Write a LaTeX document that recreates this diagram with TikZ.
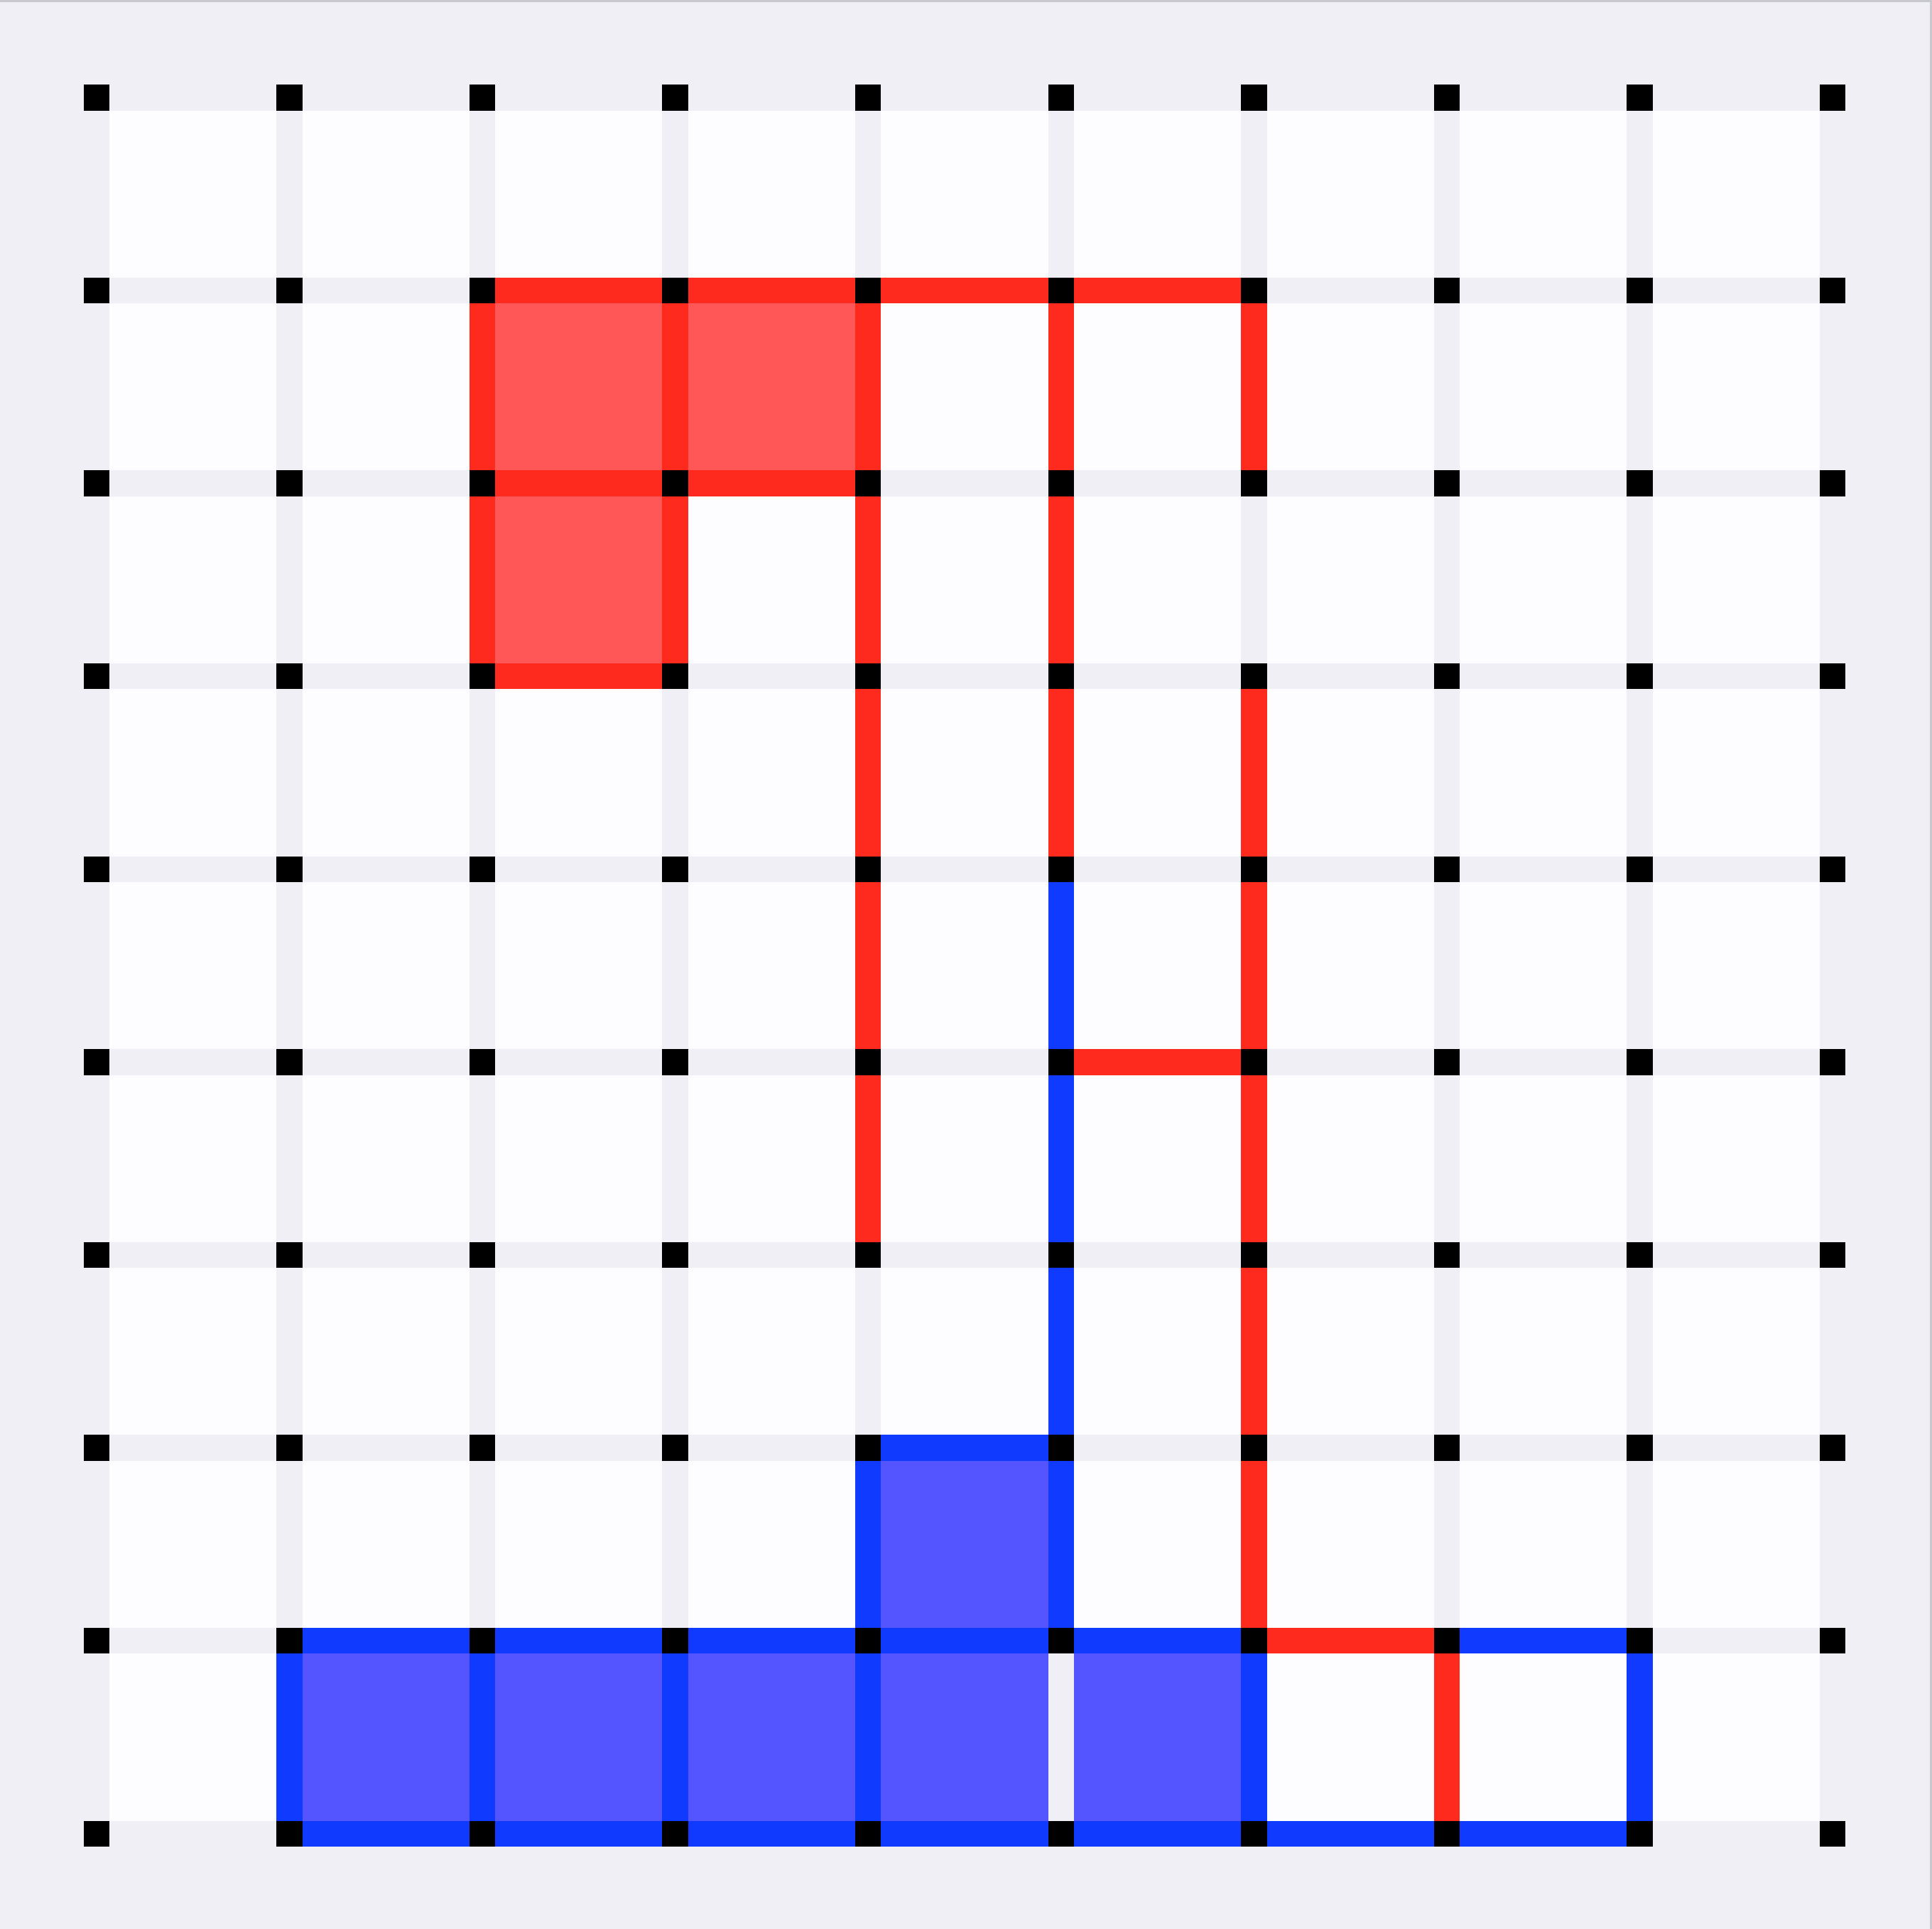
\documentclass[tikz,border=0pt]{standalone}
\usepackage{tikz}
\definecolor{boardgrey}{RGB}{240,239,245}
\definecolor{cellwhite}{RGB}{253,253,255}
\definecolor{edgered}{RGB}{255,42,30}
\definecolor{fillred}{RGB}{255,87,87}
\definecolor{edgeblue}{RGB}{17,58,255}
\definecolor{fillblue}{RGB}{85,85,255}
\definecolor{rimgrey}{RGB}{200,200,208}
\tikzset{
  dot/.style={draw=none, fill=black, rectangle, inner sep=0pt, outer sep=0pt,
              minimum size=0.134cm},
  rededge/.style={draw=edgered, line width=0.134cm},
  blueedge/.style={draw=edgeblue, line width=0.134cm},
}
\begin{document}
\begin{tikzpicture}
            % Board background and frame
            \useasboundingbox (-0.5,-0.493) rectangle (9.515,9.506);
            \fill[boardgrey] (-0.5,-0.493) rectangle (9.515,9.506);
            \draw[rimgrey, line width=0.01cm] (-0.5,9.501) -- (9.51,9.501) -- (9.51,-0.493);
            % White cells
            \foreach \c in {0,...,8}
              \foreach \r in {0,...,8}
                \fill[cellwhite] (\c+0.067,\r+0.067) rectangle (\c+0.933,\r+0.933);
            % Filled cells (column/row of top-left corner)
            \foreach \c/\r in {2/1, 3/1, 2/2}
              \fill[fillred] (\c+0.067,8-\r+0.067) rectangle (\c+0.933,9-\r-0.067);
            \foreach \c/\r in {4/7, 1/8, 2/8, 3/8, 4/8, 5/8}
              \fill[fillblue] (\c+0.067,8-\r+0.067) rectangle (\c+0.933,9-\r-0.067);
            % Vertex dots
            \foreach \c in {0,...,9}
              \foreach \r in {0,...,9}
                \node[dot] (v-\c-\r) at (\c,9-\r) {};
            % Horizontal edges (row/from/to/style)
            \foreach \r/\a/\b/\s in {1/2/6/rededge, 2/2/4/rededge, 3/2/3/rededge,
                5/5/6/rededge, 8/6/7/rededge, 7/4/5/blueedge, 8/1/6/blueedge,
                8/7/8/blueedge, 9/1/8/blueedge}{
              \pgfmathtruncatemacro{\e}{\b-1}
              \foreach \c in {\a,...,\e}{
                \pgfmathtruncatemacro{\n}{\c+1}
                \draw[\s] (v-\c-\r) -- (v-\n-\r);
              }
            }
            % Vertical edges (column/from/to/style)
            \foreach \c/\a/\b/\s in {2/1/3/rededge, 3/1/3/rededge, 4/1/6/rededge,
                5/1/4/rededge, 6/1/2/rededge, 6/3/8/rededge, 7/8/9/rededge,
                5/4/8/blueedge, 4/7/9/blueedge, 1/8/9/blueedge, 2/8/9/blueedge,
                3/8/9/blueedge, 6/8/9/blueedge, 8/8/9/blueedge}{
              \pgfmathtruncatemacro{\e}{\b-1}
              \foreach \r in {\a,...,\e}{
                \pgfmathtruncatemacro{\n}{\r+1}
                \draw[\s] (v-\c-\r) -- (v-\c-\n);
              }
            }
          \end{tikzpicture}
\end{document}
